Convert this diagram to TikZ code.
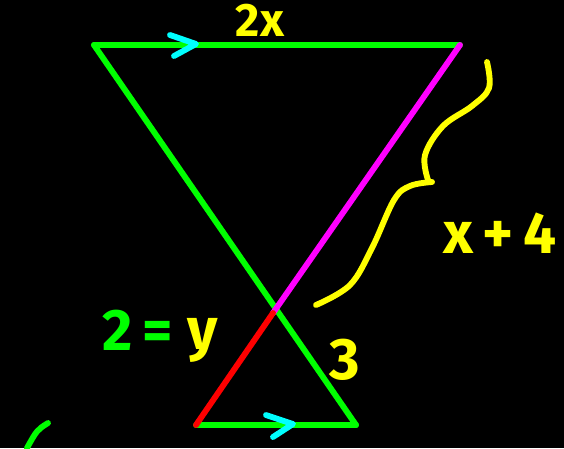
\documentclass[tikz,border=0pt]{standalone}
\usepackage{fontspec}
\setmainfont{Fira Sans}
\usepackage{tikz}

\definecolor{ngreen}{RGB}{0,255,0}
\definecolor{nyellow}{RGB}{255,255,0}
\definecolor{ncyan}{RGB}{0,255,255}
\definecolor{nmagenta}{RGB}{255,0,255}
\definecolor{nred}{RGB}{255,0,0}

\tikzset{
  side/.style={ngreen, line width=5pt, line cap=round, line join=round},
  arrowmark/.style={ncyan, line width=5pt, line cap=round, line join=round},
  brace/.style={nyellow, line width=5pt, line cap=round},
  lbl/.style={font=\fontsize{50}{52}\selectfont\bfseries, inner sep=0pt}
}

\begin{document}
\begin{tikzpicture}[x=0.03cm, y=-0.03cm]
  \fill[black] (0,0) rectangle (564,448);
  \useasboundingbox (0,0) rectangle (564,448);
  % vertices
  \coordinate (tl) at (94,45);
  \coordinate (tr) at (460,45);
  \coordinate (bl) at (196,425);
  \coordinate (br) at (356,425);
  \coordinate (m) at (273,313);
  % triangles
  \draw[side] (tl) -- (tr);
  \draw[side] (tl) -- (br);
  \draw[side] (bl) -- (br);
  \draw[nmagenta, line width=5pt, line cap=round] (tr) -- (m);
  \draw[nred, line width=5pt, line cap=round] (m) -- (bl);
  % parallel marks
  \draw[arrowmark] (170,35) -- (196,44) -- (174,56);
  \draw[arrowmark] (266,415) -- (293,424) -- (273,437);
  % brace
  \draw[brace] plot[smooth, tension=0.6] coordinates {(487,62) (489,88) (472,106) (443,126) (425,155) (428,180)};
  \draw[brace] plot[smooth, tension=0.6] coordinates {(432,182) (410,186) (394,200) (372,248) (350,285) (316,305)};
  % labels
  \node[lbl, nyellow, font=\fontsize{40}{42}\selectfont\bfseries] (top) at (260,20) {2x};
  \node[lbl, nyellow] (len) at (500,233) {x\,+\,4};
  \node[lbl, ngreen] (two) at (138,330) {2\,=};
  \node[lbl, nyellow] (why) at (203,340) {y};
  \node[lbl, nyellow] (three) at (345,360) {3};
  % stray stroke
  \draw[side] (48,423) .. controls (37,430) .. (27,448);
\end{tikzpicture}
\end{document}
